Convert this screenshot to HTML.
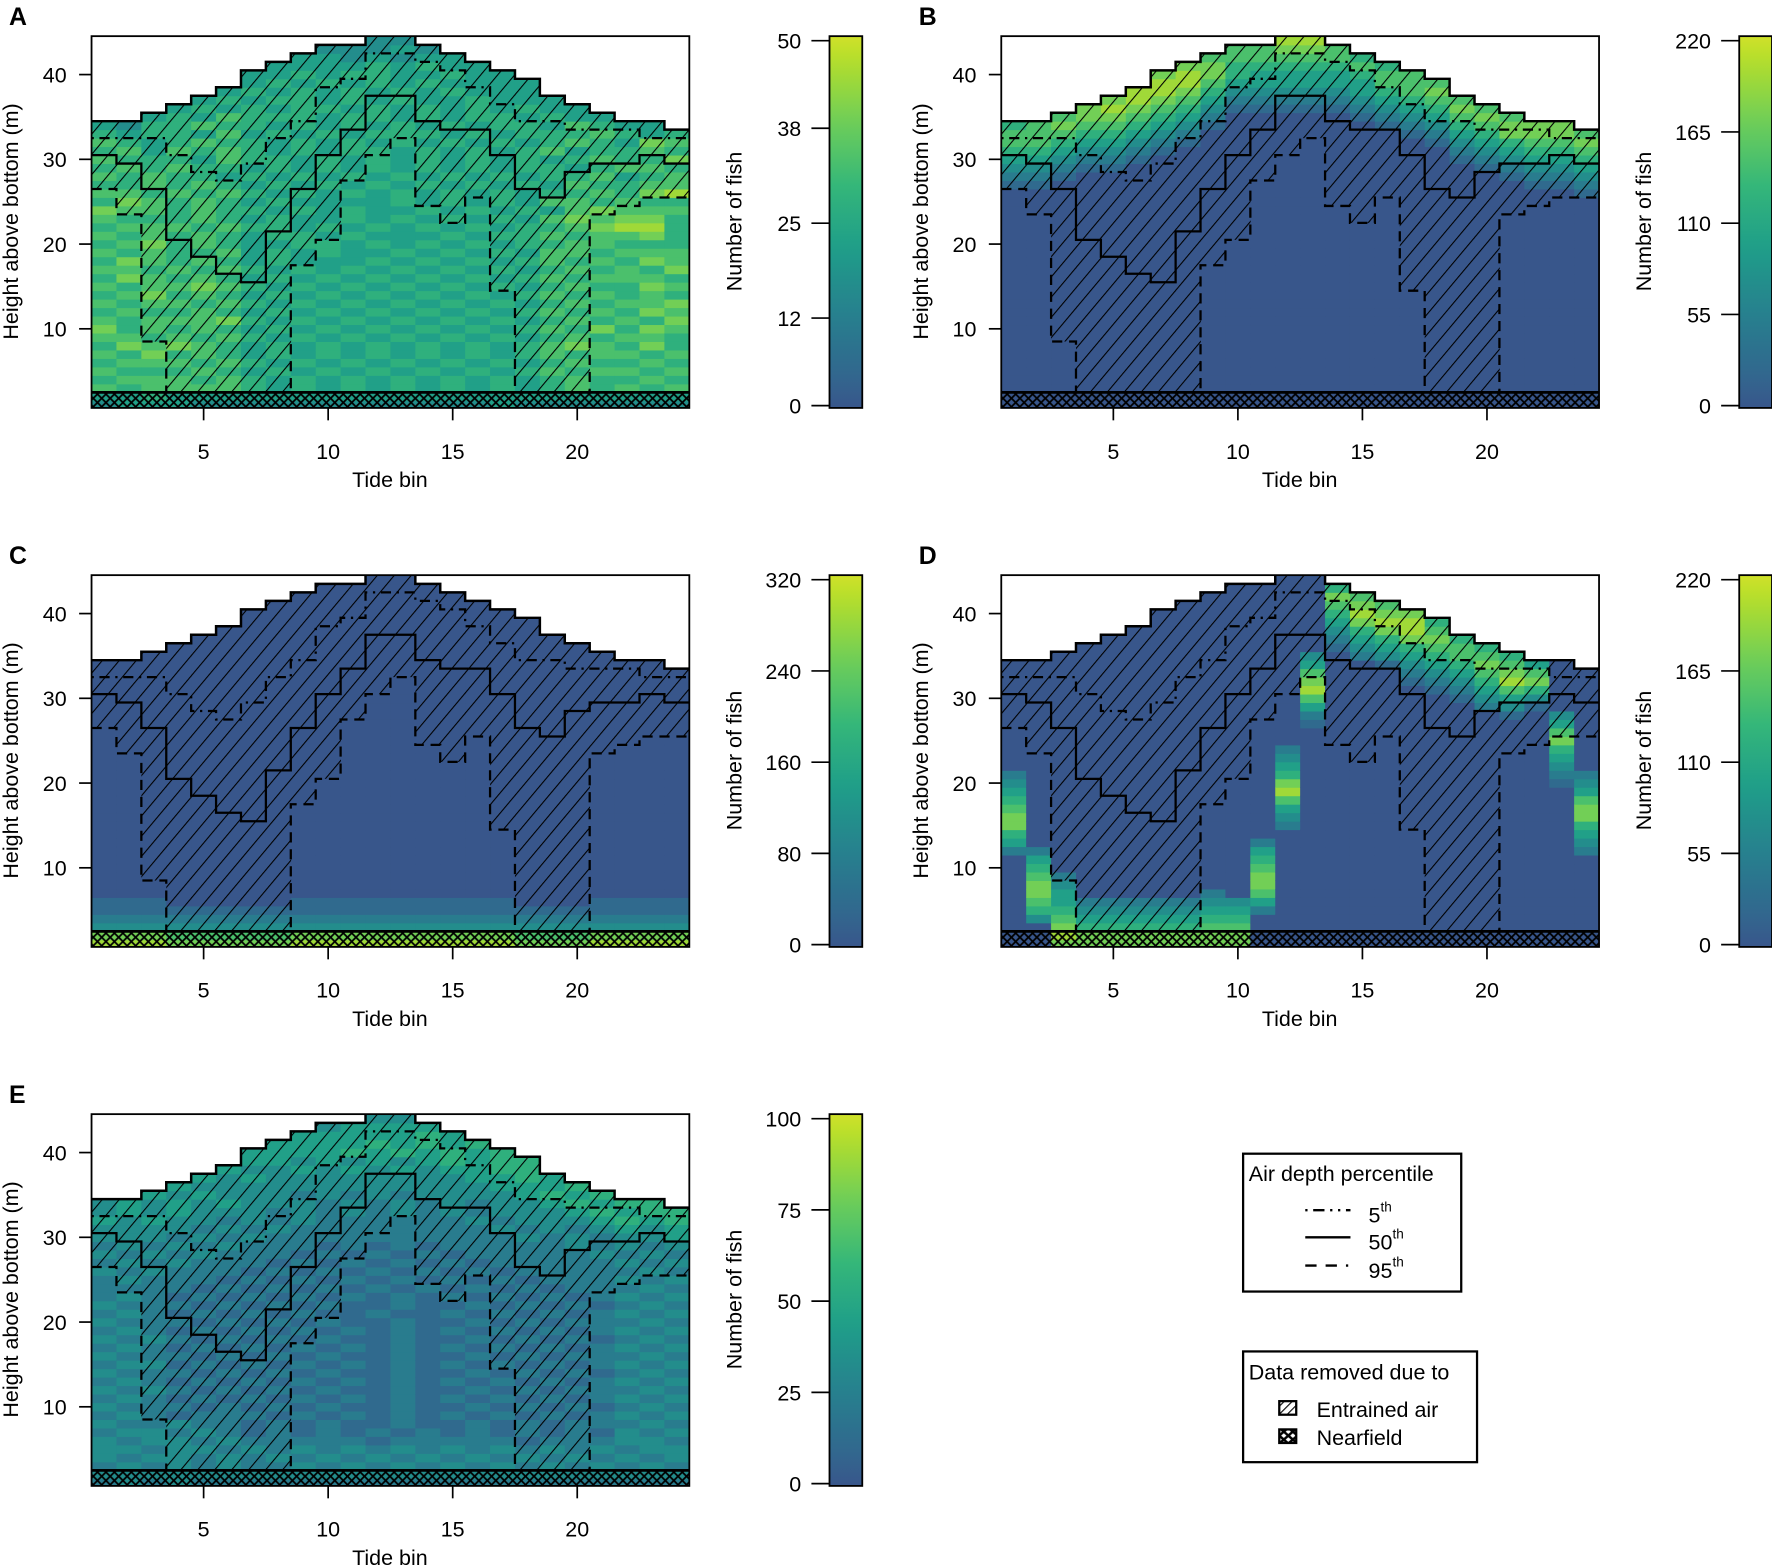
<!DOCTYPE html>
<html><head><meta charset="utf-8"><style>
html,body{margin:0;padding:0;background:#fff}
svg{display:block;font-family:"Liberation Sans",Arial,sans-serif}
</style></head><body>
<svg id="fig" width="1772" height="1565" viewBox="0 0 1568 1385" preserveAspectRatio="none" xmlns="http://www.w3.org/2000/svg">
<defs>
<pattern id="hatch" width="11.5" height="11.5" patternUnits="userSpaceOnUse" patternTransform="rotate(40)"><line x1="0" y1="-2" x2="0" y2="14" stroke="#000" stroke-width="1.9"/></pattern>
<pattern id="cross" width="7.5" height="7.5" patternUnits="userSpaceOnUse"><path d="M0 0L7.5 7.5M7.5 0L0 7.5" stroke="#000" stroke-width="1.6"/></pattern>
<pattern id="hatchS" width="5" height="5" patternUnits="userSpaceOnUse" patternTransform="rotate(45)"><line x1="0" y1="0" x2="0" y2="5" stroke="#000" stroke-width="2"/></pattern>
<pattern id="crossS" width="8" height="7" patternUnits="userSpaceOnUse"><path d="M0 0L8 7M8 0L0 7" stroke="#000" stroke-width="2.2"/></pattern>
<linearGradient id="cbar" x1="0" y1="1" x2="0" y2="0"></linearGradient>
</defs>
<g id="panels"></g>
<g>
<rect x="1100" y="1021" width="193" height="122" fill="#fff" stroke="#000" stroke-width="2"/>
<text x="1105" y="1045" font-size="19">Air depth percentile</text>
<line x1="1155" y1="1071" x2="1195" y2="1071" stroke="#000" stroke-width="2" stroke-dasharray="2,5,10,5,2,5"/>
<line x1="1155" y1="1095" x2="1195" y2="1095" stroke="#000" stroke-width="2"/>
<line x1="1155" y1="1120" x2="1195" y2="1120" stroke="#000" stroke-width="2" stroke-dasharray="10,8,10,8,2"/>
<text x="1211" y="1082" font-size="19">5<tspan font-size="12" dy="-10">th</tspan></text>
<text x="1211" y="1106" font-size="19">50<tspan font-size="12" dy="-10">th</tspan></text>
<text x="1211" y="1131" font-size="19">95<tspan font-size="12" dy="-10">th</tspan></text>
</g>
<g>
<rect x="1100" y="1196" width="207" height="98" fill="#fff" stroke="#000" stroke-width="2"/>
<text x="1105" y="1221" font-size="19">Data removed due to</text>
<rect x="1132" y="1240" width="15" height="12" fill="url(#hatchS)" stroke="#000" stroke-width="2"/>
<rect x="1132" y="1265" width="15" height="12" fill="url(#crossS)" stroke="#000" stroke-width="2"/>
<text x="1165" y="1254" font-size="19">Entrained air</text>
<text x="1165" y="1279" font-size="19">Nearfield</text>
</g>
</svg>
<script>
const tideBins=[1,2,3,4,5,6,7,8,9,10,11,12,13,14,15,16,17,18,19,20,21,22,23,24];
const surface=[34.5,34.5,35.5,36.5,37.5,38.5,40.5,41.5,42.5,43.5,43.5,45.5,45.5,43.5,42.5,41.5,40.5,39.5,37.5,36.5,35.5,34.5,34.5,33.5];
const p5=[32.5,32.5,32.5,30.5,28.5,27.5,29.5,32.5,34.5,38.5,39.5,42.5,42.5,41.5,40.5,38.5,36.5,34.5,34.5,33.5,33.5,33.5,32.5,32.5];
const p50=[30.5,29.5,26.5,20.5,18.5,16.5,15.5,21.5,26.5,30.5,33.5,37.5,37.5,34.5,33.5,33.5,30.5,26.5,25.5,28.5,29.5,29.5,30.5,29.5];
const p95=[26.5,23.5,8.5,2.5,2.5,2.5,2.5,2.5,17.5,20.5,27.5,30.5,32.5,24.5,22.5,25.5,14.5,2.5,2.5,2.5,23.5,24.5,25.5,25.5];
const xTicks=[5,10,15,20];
const yTicks=[10,20,30,40];
const nearfieldTop=2.5;
const rowsA=[
"333333333333333333333333","444444444333434444444444","444444444434344444444444","444444444445454444444444",
"444444445455445444444444","444444454545454444444444","444444545454545444444444","444445455454544544444444",
"444454545545454545444444","444546555455454554544444","435565545454545455465444","545546454545554545556545",
"654565545454545454565476","564656545455454545645565","655546554545454545456557","565655454545454545545665",
"656554545454545454556456","556565454545454545465566","665656545454545454556578","576565454444545454665655",
"766565545454454545467666","655565454454545454676775","566656554545454545567885","656565455454445455656675",
"567565445545454545566555","656556454544545454665666","576565454445454545656576","665656545454545454565657",
"576565454545454545656665","656676545454545454565576","567565454545454545656565","656656545454545454565667",
"565565454545454545656576","656667545454545454565657","756565454545454545657576","665656545454545454565665",
"576765454545454545676575","657565454545454545656656","566656545454545454565565","655565454545454545656656",
"566656545454545454565565","656666545454545454565656","445444444444444444444444","344433333333333343333333"];
const topB=["56654321","66654321","67654321","77654321","787654321","887654321","7887654321","7887654321","677654321","66554321","66544321","8876544321",
"8876544321","66544321","56544321","56654321","66654321","67654321","67654321","67654321","67754321","77654321","77654321","67654321"];
const bottomC=["873211","873211","873211","763210","763210","763210","763210","763210","873211","873211","873211","873211",
"873211","873211","873211","873211","873211","763210","763210","763210","873211","873211","873211","873211"];
const startD=[12,4,1,1,1,1,1,1,1,1,5,15,27,0,0,0,0,0,0,0,0,0,20,12];
const bottomD=["2457765432","356776542","787654432","775432","775432","775432","775432","775432","7765432","776543","246776542","2346875432",
"124687643","","","","","","","","","","123457643","2345776432"];
const topD=["","","","","","","","","","","","","","57654321","67875432","67875431","788754321","567654321","56654321","56765432","56786431","467531","",""];
const rowsE=[
"333333333333333333333333","333333333344444333333333","333333334444454443333333","333333444445454544333333",
"333333444454545454433333","333334443434345455443333","333334334343434455544333","333343433333333445454333",
"333433333333333344455433","334343332323233334545543","343434333232323233454554","343433323232323233345455",
"434332323222222323334545","333323232222222232323434","333232322222222223232334","232323222121212222232323",
"323232221212121222223232","232322212121212122222323","323222121212121212222232","232221212121212121222323",
"222212121212121212122232","232121212121212121212323","322212121211211212121232","232121212112112121212323",
"322212121211211212122232","232121212121212121212323","323212121211211212121232","232121212121212121212323",
"322212121211211212122232","233121212121212121212323","322212121211211212121232","232121212121212121212323",
"323212121211211212122232","232121212121212121212323","322212121211211212121232","232122212121212121212323",
"322322121211211212122232","233232121212121212121323","323323222221222221222332","332332323232323232323233",
"323323232323232323232323","232323223232323232323232","333333333333333333333333","232322222222222222222222"];
const ticksA=[0,12,25,38,50], ticksB=[0,55,110,165,220], ticksC=[0,80,160,240,320], ticksD=[0,55,110,165,220], ticksE=[0,25,50,75,100];

const NS="http://www.w3.org/2000/svg";
function mk(tag,attrs,parent){const e=document.createElementNS(NS,tag);for(const k in attrs)e.setAttribute(k,attrs[k]);if(parent)parent.appendChild(e);return e;}
const vir=[[68,1,84],[72,40,120],[62,73,137],[49,104,142],[38,130,142],[31,158,137],[53,183,121],[110,206,88],[181,222,43],[253,231,37]];
function viridis(t){t=Math.max(0,Math.min(1,t));const p=t*9,i=Math.min(8,Math.floor(p)),f=p-i;const a=vir[i],b=vir[i+1];
 return "rgb("+a.map((v,j)=>Math.round(v+(b[j]-v)*f)).join(",")+")";}
function col(t){return viridis(0.27+0.66*t);}
(function(){const g=document.getElementById('cbar');for(let i=0;i<=20;i++){mk('stop',{offset:(i/20),'stop-color':col(i/20)},g);}})();

const X0=81,BW=22.04,Y0=366,PM=7.5,TOP=32,BOT=361,RIGHT=X0+24*BW;
const xs=b=>X0+(b-0.5)*BW;
const ys=m=>Y0-PM*m;

function emptyGrid(){return tideBins.map(()=>new Array(46).fill(0));}
function gridFromRows(rows){const g=emptyGrid();for(let i=0;i<24;i++)for(let k=1;k<=45;k++){const r=rows[Math.max(0,44-k)];g[i][k]=+r[i];}return g;}
function addTop(g,tops){tops.forEach((s,i)=>{const r0=Math.floor(surface[i]);for(let j=0;j<s.length;j++){const k=r0-j;if(k>=1&&k<=45)g[i][k]=+s[j];}});return g;}
function addBottom(g,starts,strs){strs.forEach((s,i)=>{for(let j=0;j<s.length;j++){const k=starts[i]+j;if(k>=1&&k<=45)g[i][k]=+s[j];}});return g;}

const panels=[
 {letter:'A',ox:0,oy:0,ticks:ticksA,grid:gridFromRows(rowsA)},
 {letter:'B',ox:805,oy:0,ticks:ticksB,grid:addTop(emptyGrid(),topB)},
 {letter:'C',ox:0,oy:477,ticks:ticksC,grid:addBottom(emptyGrid(),tideBins.map(()=>1),bottomC)},
 {letter:'D',ox:805,oy:477,ticks:ticksD,grid:addTop(addBottom(emptyGrid(),startD,bottomD),topD)},
 {letter:'E',ox:0,oy:954,ticks:ticksE,grid:gridFromRows(rowsE)}
];

function stepPath(vals){let d="M"+xs(0.5)+" "+ys(vals[0]);for(let i=0;i<vals.length;i++){if(i>0)d+=" V"+ys(vals[i]);d+=" H"+xs(i+1.5);}return d;}

const root=document.getElementById('panels');
panels.forEach((p,pi)=>{
 const g=mk('g',{transform:`translate(${p.ox},${p.oy})`},root);
 
 
 const cid='clip'+pi;
 const cp=mk('clipPath',{id:cid},g);mk('rect',{x:X0,y:TOP,width:RIGHT-X0,height:BOT-TOP},cp);
 const plot=mk('g',{'clip-path':`url(#${cid})`},g);
 
 
 const maxV=p.ticks[p.ticks.length-1];
 for(let i=0;i<24;i++){for(let k=1;k<=45;k++){if(k-0.5>=surface[i])continue;
   const c=mk('rect',{x:xs(tideBins[i]-0.5),y:ys(k+0.5),width:BW+0.4,height:PM+0.4,fill:col(p.grid[i][k]/9)},plot);
   
   
 }}
 for(let i=0;i<24;i++){const lo=Math.max(p95[i],nearfieldTop);
   const h=mk('rect',{x:xs(tideBins[i]-0.5),y:ys(surface[i]),width:BW+0.3,height:ys(lo)-ys(surface[i]),fill:'url(#hatch)'},plot);
   
   
 }
 const nf=mk('rect',{x:X0,y:ys(nearfieldTop),width:RIGHT-X0,height:BOT-ys(nearfieldTop),fill:'url(#cross)'},plot);
 
 
 mk('line',{x1:X0,x2:RIGHT,y1:ys(nearfieldTop),y2:ys(nearfieldTop),stroke:'#000','stroke-width':2.5},plot);
 const l5=mk('path',{d:stepPath(p5),fill:'none',stroke:'#000','stroke-width':2,'stroke-dasharray':'2,5,9,5'},plot);
 
 
 const l50=mk('path',{d:stepPath(p50),fill:'none',stroke:'#000','stroke-width':2},plot);
 
 
 const l95=mk('path',{d:stepPath(p95),fill:'none',stroke:'#000','stroke-width':2,'stroke-dasharray':'9,6'},plot);
 
 
 const ls=mk('path',{d:stepPath(surface),fill:'none',stroke:'#000','stroke-width':2.2},plot);
 
 
 const fr=mk('rect',{x:X0,y:TOP,width:RIGHT-X0,height:BOT-TOP,fill:'none',stroke:'#000','stroke-width':1.6},g);
 
 
 yTicks.forEach(v=>{mk('line',{x1:70,x2:X0,y1:ys(v),y2:ys(v),stroke:'#000','stroke-width':1.5},g);
   const t=mk('text',{x:59,y:ys(v)+7,'font-size':19,'text-anchor':'end'},g);t.textContent=v;
   
   });
 xTicks.forEach(v=>{mk('line',{x1:xs(v),x2:xs(v),y1:BOT,y2:372,stroke:'#000','stroke-width':1.5},g);
   const t=mk('text',{x:xs(v),y:406,'font-size':19,'text-anchor':'middle'},g);t.textContent=v;
   
   });
 const xt=mk('text',{x:345,y:431,'font-size':19,'text-anchor':'middle'},g);xt.textContent='Tide bin';
 
 
 const yt=mk('text',{x:0,y:0,'font-size':19,'text-anchor':'middle',transform:'translate(16,196) rotate(-90)'},g);yt.textContent='Height above bottom (m)';
 
 
 const lt=mk('text',{x:8,y:22,'font-size':22,'font-weight':'bold'},g);lt.textContent=p.letter;
 
 
 const cb=mk('rect',{x:734,y:32,width:29,height:329,fill:'url(#cbar)',stroke:'#000','stroke-width':1.6},g);
 
 
 p.ticks.forEach(v=>{const y=359-v/maxV*323;
   mk('line',{x1:718,x2:734,y1:y,y2:y,stroke:'#000','stroke-width':1.5},g);
   const t=mk('text',{x:709,y:y+7,'font-size':19,'text-anchor':'end'},g);t.textContent=v;
   
   });
 const ct=mk('text',{x:0,y:0,'font-size':19,'text-anchor':'middle',transform:'translate(656,196) rotate(-90)'},g);ct.textContent='Number of fish';
 
 
});
</script>
</body></html>
